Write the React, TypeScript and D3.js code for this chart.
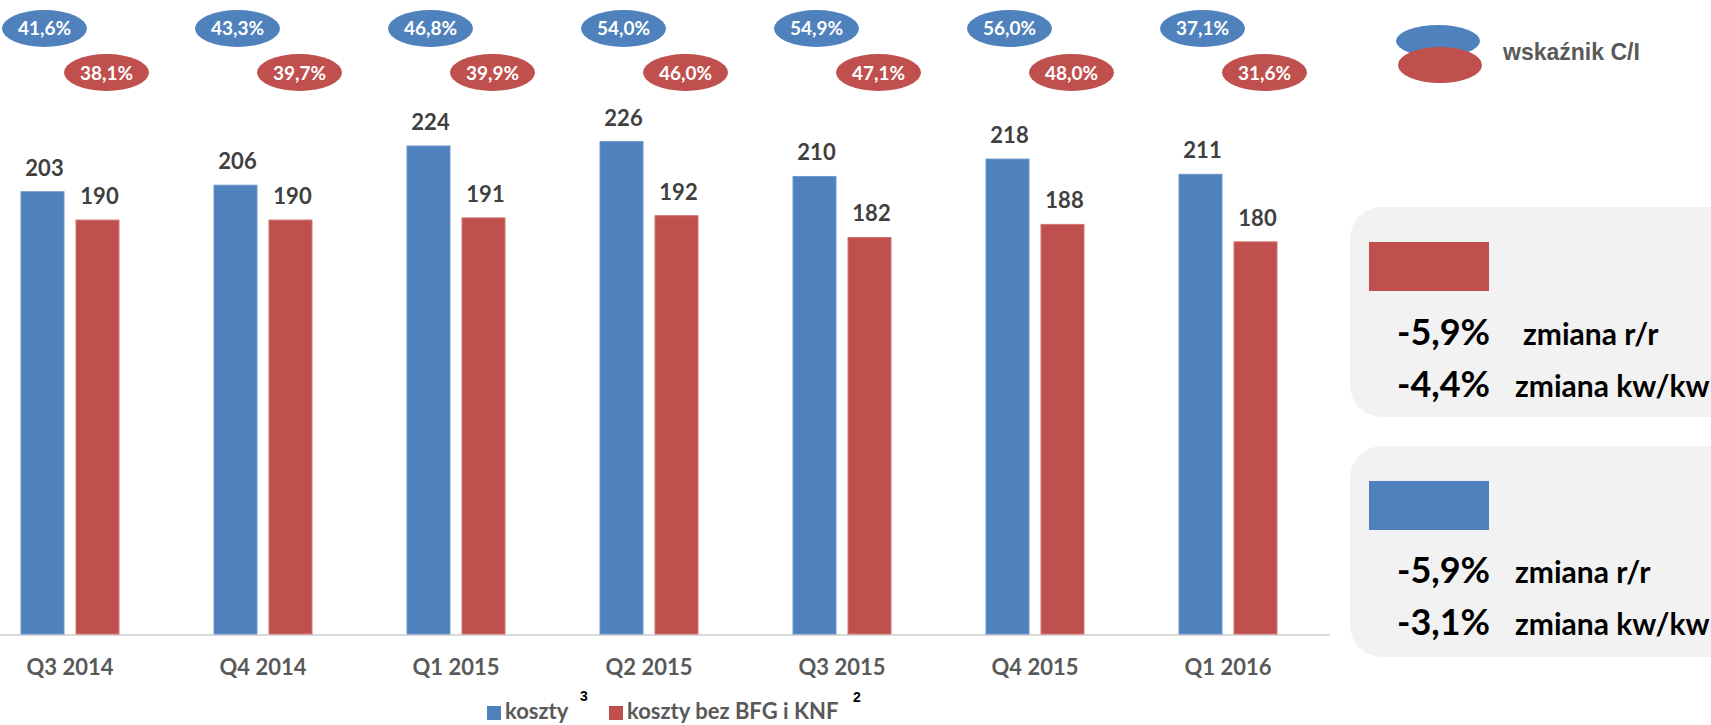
import * as d3 from "d3"

// kwartały
const categories = ["Q3 2014", "Q4 2014", "Q1 2015", "Q2 2015", "Q3 2015", "Q4 2015", "Q1 2016"]
// koszty (mln zł)
const koszty = [203, 206, 224, 226, 210, 218, 211]
const kosztyBez = [190, 190, 191, 192, 182, 188, 180]
// wskaźnik C/I
const ciKoszty = ["41,6%", "43,3%", "46,8%", "54,0%", "54,9%", "56,0%", "37,1%"]
const ciBez = ["38,1%", "39,7%", "39,9%", "46,0%", "47,1%", "48,0%", "31,6%"]
// legenda
const seriesNames = ["koszty", "koszty bez BFG i KNF"]
const seriesSup = ["3", "2"]
// zmiany (panel czerwony, panel niebieski)
const changesBez = ["-5,9%", "-4,4%"]
const changesKoszty = ["-5,9%", "-3,1%"]
const changeLabels = ["zmiana r/r", "zmiana kw/kw"]

const BLUE = "#4f81bd"
const RED = "#c0504d"
const GRAY = "#595959"
const CAL = "Lato, 'Open Sans', sans-serif"
const ARIAL = "'Liberation Sans', Arial, sans-serif"

export default function App() {
  const width = 1711
  const height = 725
  const baseline = 634

  const x = d3.scaleBand<string>().domain(categories).range([-26.5, -26.5 + 7 * 193]).padding(0)
  const y = d3.scaleLinear().domain([0, 291]).range([baseline, 0])
  const barW = 43
  const gap = 12
  const blueX = (c: string) => x(c)! + x.bandwidth() / 2 - gap / 2 - barW
  const redX = (c: string) => x(c)! + x.bandwidth() / 2 + gap / 2

  const panels = [
    { top: 207, h: 210, color: RED, vals: changesBez, descX: [1523, 1515], baseY: 345 },
    { top: 446, h: 211, color: BLUE, vals: changesKoszty, descX: [1515, 1515], baseY: 583 },
  ]

  return (
    <div style={{ position: "fixed", left: 0, top: 0 }}>
      <svg width={width} height={height} style={{ display: "block", background: "#fff" }}>
        {/* oś X */}
        <line x1={0} x2={1330} y1={baseline + 1} y2={baseline + 1} stroke="#d9d9d9" strokeWidth={2} />

        {categories.map((c, i) => (
          <g key={c}>
            <rect x={blueX(c)} y={y(koszty[i])} width={barW} height={baseline - y(koszty[i])} fill={BLUE} stroke="#6f98cc" strokeWidth={1} />
            <rect x={redX(c)} y={y(kosztyBez[i])} width={barW} height={baseline - y(kosztyBez[i])} fill={RED} stroke="#d17572" strokeWidth={1} />
            <text x={blueX(c) + barW / 2 + 2} y={y(koszty[i]) - 16} textAnchor="middle" fontFamily={CAL} fontWeight="bold" fontSize={22} fill="#404040">
              {koszty[i]}
            </text>
            <text x={redX(c) + barW / 2 + 2} y={y(kosztyBez[i]) - 16} textAnchor="middle" fontFamily={CAL} fontWeight="bold" fontSize={22} fill="#404040">
              {kosztyBez[i]}
            </text>
            <text x={x(c)! + x.bandwidth() / 2} y={675} textAnchor="middle" fontFamily={CAL} fontWeight="bold" fontSize={22} fill={GRAY}>
              {c}
            </text>

            {/* wskaźnik C/I */}
            <ellipse cx={blueX(c) + barW / 2 + 2} cy={28.5} rx={42.5} ry={18.5} fill={BLUE} />
            <text x={blueX(c) + barW / 2 + 2} y={35} textAnchor="middle" fontFamily={CAL} fontWeight="bold" fontSize={19} fill="#fff">
              {ciKoszty[i]}
            </text>
            <ellipse cx={redX(c) + barW / 2 + 9} cy={72.5} rx={42.5} ry={18.5} fill={RED} />
            <text x={redX(c) + barW / 2 + 9} y={79.5} textAnchor="middle" fontFamily={CAL} fontWeight="bold" fontSize={19} fill="#fff">
              {ciBez[i]}
            </text>
          </g>
        ))}

        {/* legenda C/I */}
        <ellipse cx={1438} cy={41} rx={42} ry={16} fill={BLUE} />
        <ellipse cx={1440} cy={65} rx={42} ry={18} fill={RED} />
        <text x={1503} y={60} fontFamily={ARIAL} fontWeight="bold" fontSize={23} fill={GRAY}>
          wskaźnik C/I
        </text>

        {/* panele zmian */}
        {panels.map((p, k) => (
          <g key={k}>
            <rect x={1350} y={p.top} width={420} height={p.h} rx={32} fill="#f2f2f2" />
            <rect x={1369} y={p.top + 35} width={120} height={49} fill={p.color} />
            {p.vals.map((v, j) => (
              <g key={j}>
                <text x={1397} y={p.baseY + j * 52} fontFamily={CAL} fontWeight="bold" fontSize={36} fill="#000">
                  {v}
                </text>
                <text x={p.descX[j]} y={p.baseY + j * 52} fontFamily={CAL} fontWeight="bold" fontSize={30} fill="#000">
                  {changeLabels[j]}
                </text>
              </g>
            ))}
          </g>
        ))}

        {/* legenda serii */}
        <rect x={487} y={706} width={14} height={14} fill={BLUE} />
        <text x={505} y={719} fontFamily={CAL} fontWeight="bold" fontSize={22} fill={GRAY}>
          {seriesNames[0]}
        </text>
        <text x={580} y={701} fontFamily={ARIAL} fontWeight="bold" fontSize={14} fill="#000">
          {seriesSup[0]}
        </text>
        <rect x={609} y={706} width={14} height={14} fill={RED} />
        <text x={627} y={719} fontFamily={CAL} fontWeight="bold" fontSize={22} fill={GRAY}>
          {seriesNames[1]}
        </text>
        <text x={853} y={702} fontFamily={ARIAL} fontWeight="bold" fontSize={14} fill="#000">
          {seriesSup[1]}
        </text>
      </svg>
    </div>
  )
}
